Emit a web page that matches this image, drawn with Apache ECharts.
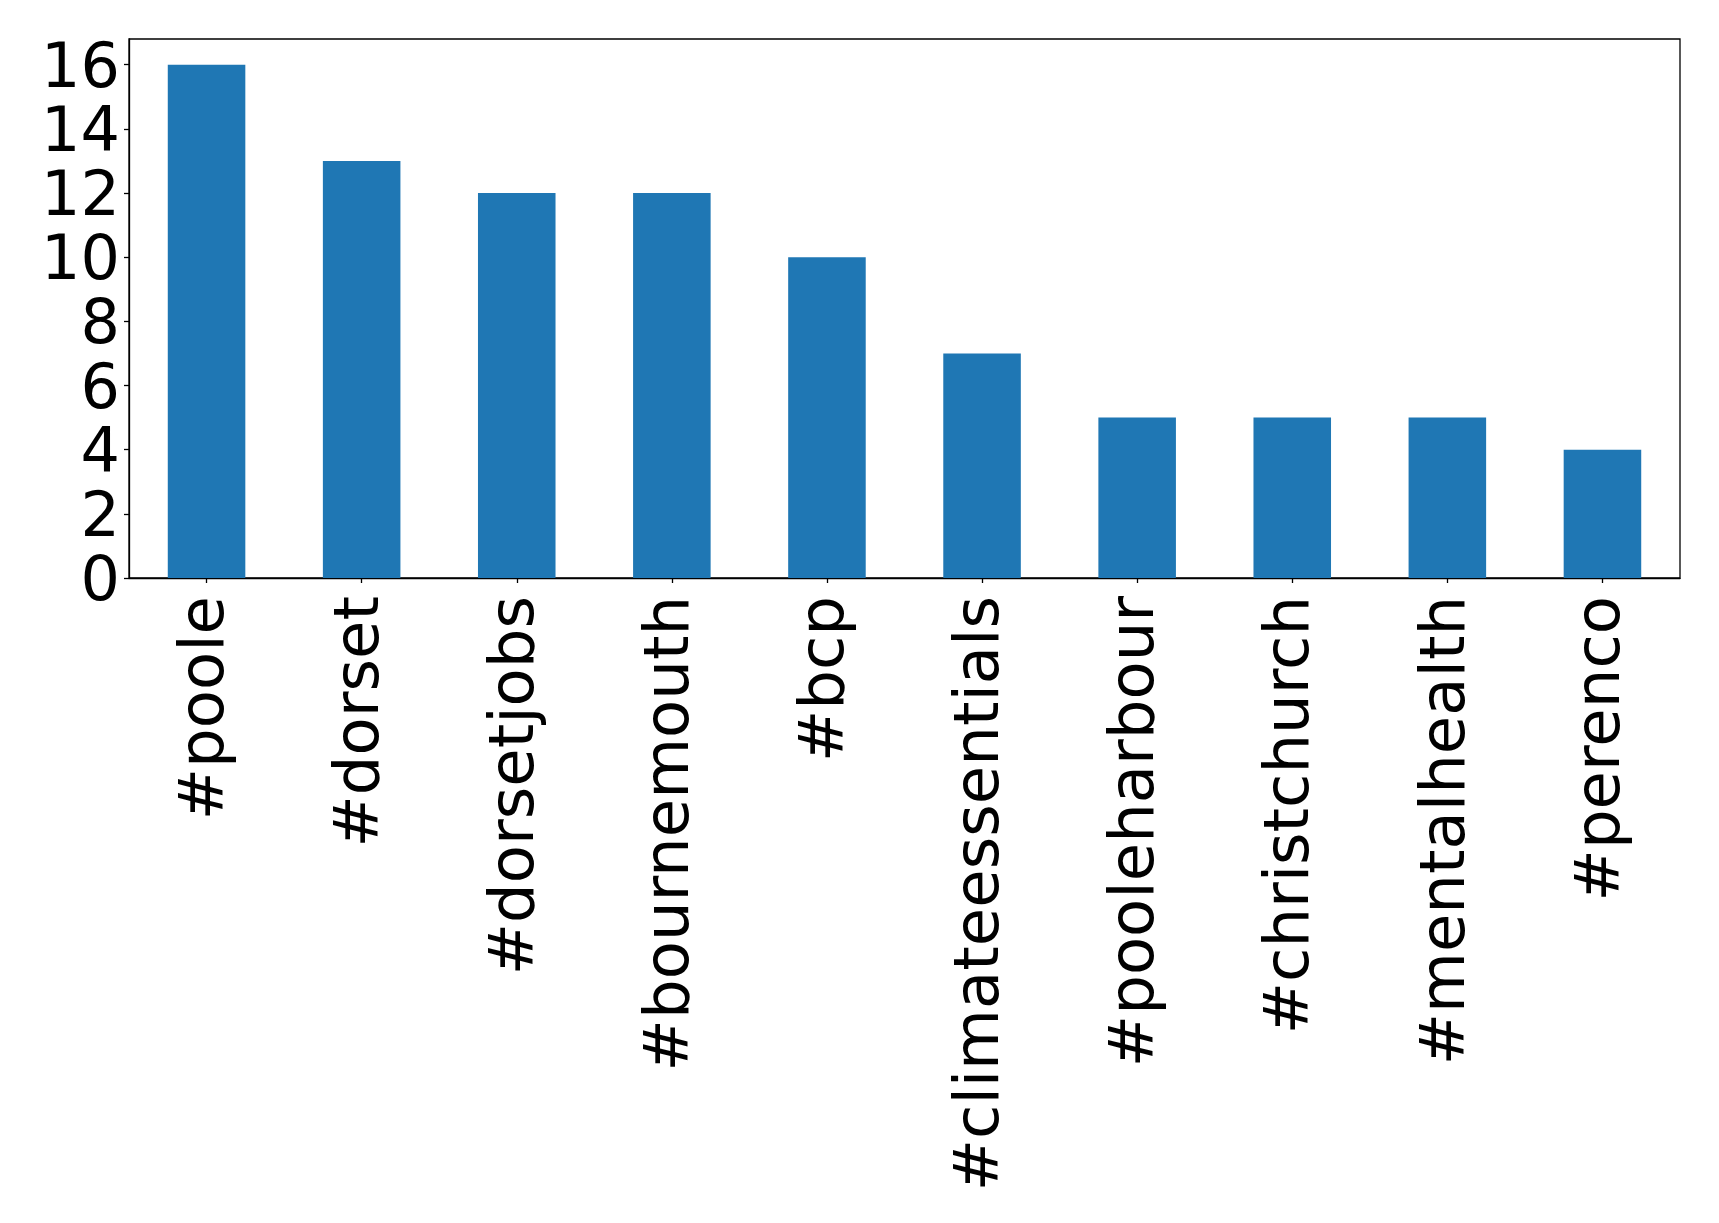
<!DOCTYPE html>
<html>
<head>
<meta charset="utf-8">
<script src="https://cdn.jsdelivr.net/npm/echarts@6/dist/echarts.min.js"></script>
<style>html,body{margin:0;padding:0;background:#fff;}#c{width:1719px;height:1223px;}</style>
</head>
<body>
<div id="c"></div>
<script>
const categories = ['#poole', '#dorset', '#dorsetjobs', '#bournemouth', '#bcp', '#climateessentials', '#pooleharbour', '#christchurch', '#mentalhealth', '#perenco'];
const counts = [16, 13, 12, 12, 10, 7, 5, 5, 5, 4];
const yTicks = [0, 2, 4, 6, 8, 10, 12, 14, 16];

const chart = echarts.init(document.getElementById('c'));
chart.setOption({
  animation: false,
  backgroundColor: '#ffffff',
  grid: { left: 129, right: 39, top: 39, bottom: 645, show: true, borderColor: '#000', borderWidth: 1.3, containLabel: false },
  xAxis: {
    type: 'category',
    data: categories,
    axisLine: { lineStyle: { color: '#000', width: 1.3 } },
    axisTick: { show: true, alignWithLabel: true, length: 5, lineStyle: { color: '#000', width: 1.3 } },
    axisLabel: { rotate: 90, fontSize: 62.5, fontFamily: 'DejaVu Sans', color: '#000', margin: 18 },
    splitLine: { show: false }
  },
  yAxis: {
    type: 'value',
    min: 0, max: 16.8, interval: 2,
    axisLine: { show: true, lineStyle: { color: '#000', width: 1.3 } },
    axisTick: { show: true, length: 5, customValues: yTicks, lineStyle: { color: '#000', width: 1.3 } },
    axisLabel: { color: '#000', margin: 9, customValues: yTicks,
      rich: { t: { fontSize: 62, fontFamily: 'DejaVu Sans', color: '#000', padding: [12, 0, 0, 0] } },
      formatter: function (v) { return yTicks.indexOf(v) >= 0 ? '{t|' + v + '}' : ''; } },
    splitLine: { show: false }
  },
  series: [{
    type: 'bar',
    data: counts,
    barWidth: '50%',
    itemStyle: { color: '#1f77b4' }
  }]
});
</script>
</body>
</html>
